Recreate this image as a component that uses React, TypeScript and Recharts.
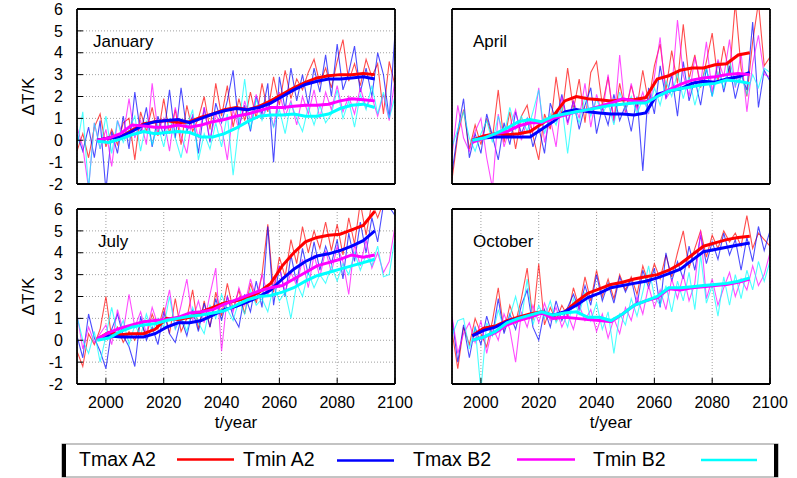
import React from 'react';
import { LineChart, Line, XAxis, YAxis, CartesianGrid } from 'recharts';

// yearly samples (every 2nd year) and the running-mean sample years
const YEARS = [
  1990, 1992, 1994, 1996, 1998, 2000, 2002, 2004, 2006, 2008, 2010, 2012, 2014, 2016,
  2018, 2020, 2022, 2024, 2026, 2028, 2030, 2032, 2034, 2036, 2038, 2040, 2042, 2044,
  2046, 2048, 2050, 2052, 2054, 2056, 2058, 2060, 2062, 2064, 2066, 2068, 2070, 2072,
  2074, 2076, 2078, 2080, 2082, 2084, 2086, 2088, 2090, 2092, 2094, 2096, 2098, 2100,
];
const SMOOTH_YEARS = [
  1997, 2001, 2005, 2009, 2013, 2017, 2021, 2025, 2029, 2033, 2037, 2041, 2045,
  2049, 2053, 2057, 2061, 2065, 2069, 2073, 2077, 2081, 2085, 2089, 2093,
];
const X_TICKS = [2000, 2020, 2040, 2060, 2080, 2100];
const Y_TICKS = [-2, -1, 0, 1, 2, 3, 4, 5, 6];

// January
const janTmaxA2 = [
  -0.5, 0.3, -0.8, 0.6, 1.2, -0.3, 0.5, -0.2, 0.8, 1.0, -0.9, 1.3, 0.4, 1.5,
  0.2, 1.9, 0.3, 1.4, -0.2, 1.6, 0.4, 1.0, 2.0, 0.5, 2.6, 1.1, 2.5, 0.6,
  1.9, 0.9, 2.2, 1.0, 2.6, 1.3, 2.9, 1.6, 3.2, 1.9, 2.8, 2.3, 3.1, 3.7,
  2.6, 3.3, 2.4, 3.6, 4.6, 2.7, 3.5, 2.5, 3.7, 2.9, 3.5, 1.2, 3.6, 2.5,
];
const janTminA2 = [
  0.3, -0.5, 0.6, -0.8, 0.9, -2.3, 0.4, -0.6, 1.1, -0.4, 2.2, 0.3, 1.5, -0.3,
  1.1, 0.2, 2.3, 0.1, 2.4, 0.4, 1.1, -0.6, 1.5, -0.1, 1.7, 0.8, 1.8, 3.2,
  0.6, 1.6, 0.4, 2.0, 1.2, 2.6, -1.0, 2.9, 1.4, 3.3, 1.8, 3.0, 1.6, 3.3,
  2.2, 3.9, 2.0, 4.4, 2.3, 3.1, 4.3, 2.2, 3.3, 2.0, 4.0, 3.0, 1.0, 4.9,
];
const janTmaxB2 = [
  0.6, -0.3, -2.2, 0.8, -0.4, 0.5, -1.2, 0.9, 0.2, 1.9, 0.1, 0.9, -0.2, 2.6,
  0.4, 1.0, -0.5, 1.5, 0.2, -0.6, 1.2, 0.1, 1.5, 0.0, 1.2, 0.6, -0.9, 1.4,
  0.5, 1.8, 0.9, 2.1, 1.0, 1.7, 0.6, 2.2, 1.1, 1.8, 0.7, 2.0, 1.2, 2.3,
  1.0, 2.2, 1.4, 2.5, 1.3, 2.0, 1.2, 2.4, 1.5, 2.0, 1.1, 2.1, 0.9, 2.8,
];
const janTminB2 = [
  -0.3, 1.3, -2.2, 0.8, -0.4, 1.1, -0.6, 0.9, -0.1, 0.5, 1.1, -0.5, 0.9, -0.2,
  0.7, -0.3, 1.0, 0.1, -0.8, 0.6, 1.4, -0.9, 0.3, -0.4, 0.8, -0.3, 1.2, -1.6,
  0.7, 2.8, 0.5, 1.9, 0.9, 1.6, 0.6, 1.4, 0.3, 1.7, 1.0, 0.4, 1.5, 0.7,
  1.6, 0.8, 1.2, 2.3, 1.0, 1.8, 0.6, 2.1, 1.4, 2.5, 1.2, 2.2, 1.0, 2.0,
];
const janSmTmaxA2 = [0.0, 0.1, 0.15, 0.45, 0.75, 0.85, 0.9, 0.8, 0.85, 1.05, 1.2, 1.4, 1.5, 1.4, 1.55, 1.8, 2.1, 2.4, 2.65, 2.85, 2.95, 3.0, 3.0, 3.05, 3.0];
const janSmTminA2 = [0.0, 0.1, 0.15, 0.4, 0.7, 0.85, 0.9, 0.95, 0.8, 1.0, 1.2, 1.35, 1.45, 1.4, 1.5, 1.7, 2.0, 2.3, 2.55, 2.7, 2.8, 2.8, 2.85, 2.9, 2.8];
const janSmTmaxB2 = [0.0, 0.1, 0.3, 0.7, 0.65, 0.6, 0.6, 0.7, 0.6, 0.7, 0.85, 0.95, 1.1, 1.2, 1.35, 1.5, 1.5, 1.55, 1.6, 1.6, 1.65, 1.8, 1.9, 1.85, 1.8];
const janSmTminB2 = [-0.05, -0.1, 0.05, 0.25, 0.4, 0.3, 0.35, 0.4, 0.35, 0.15, 0.15, 0.3, 0.55, 0.85, 1.1, 1.15, 1.15, 1.2, 1.1, 1.1, 1.2, 1.45, 1.6, 1.65, 1.5];

// April
const aprTmaxA2 = [
  -1.8, 0.2, 1.4, -0.4, 0.7, -0.2, 1.0, 0.1, 2.3, -0.1, 1.3, -0.4, 1.1, 1.6,
  0.2, -0.9, 1.2, 0.5, 2.9, 1.1, 3.3, 1.4, 2.8, 0.8, 3.1, 3.6, 1.6, 2.9,
  0.9, 2.6, 1.3, 2.5, 1.5, 3.2, 1.7, 3.4, 4.4, 2.3, 4.1, 2.6, 5.3, 2.8,
  3.9, 2.4, 3.6, 4.9, 2.7, 4.3, 3.0, 6.3, 3.3, 2.0, 4.5, 6.3, 3.4, 3.8,
];
const aprTminA2 = [
  -1.5, 0.4, 1.9, -0.8, 0.3, -0.6, 1.2, 0.2, -0.9, 0.8, -0.2, 1.3, 0.3, 1.0,
  -0.3, 0.6, -0.6, 1.7, 0.9, 2.1, 0.8, 1.8, 0.5, 1.6, 2.4, 0.3, 1.5, 0.7,
  2.1, 0.9, 1.6, 0.4, 2.0, -1.4, 2.4, 1.2, 3.4, 1.9, 3.0, 1.1, 3.6, 1.8,
  2.8, 1.6, 3.3, 2.0, 3.6, 2.2, 3.4, 1.9, 3.0, 2.3, 5.4, 1.5, 3.2, 2.7,
];
const aprTmaxB2 = [
  -0.7, 1.6, 0.1, -0.5, 0.4, 1.0, -0.8, -2.2, 1.2, -0.3, 0.6, 1.4, 0.0, 0.9,
  0.4, 2.4, -0.1, 1.0, -0.3, 2.0, 0.7, 1.8, 1.0, 2.6, 0.6, 2.1, 1.2, 3.0,
  0.8, 3.9, 1.2, 2.6, 1.4, 2.2, 1.2, 2.9, 4.7, 1.9, 2.3, 5.5, 3.0, 2.0,
  3.8, 2.6, 4.5, 2.2, 3.7, 2.9, 4.6, 2.4, 4.0, 1.3, 3.5, 4.8, 3.0, 2.9,
];
const aprTminB2 = [
  -0.3, 0.5, 1.3, 0.1, -0.5, 0.3, 0.9, -0.1, 1.1, 0.2, 1.5, 0.5, 1.1, 0.4,
  1.3, 2.3, 0.3, 1.2, 0.7, 1.6, -0.6, 1.5, 0.8, 2.0, 1.1, 1.9, 1.2, 1.7,
  0.7, 2.2, 1.4, 2.0, 1.2, 1.9, 1.3, 2.4, 1.6, 2.7, 2.0, 3.1, 1.9, 2.9,
  1.6, 2.6, 3.3, 2.0, 3.1, 2.4, 3.7, 2.5, 3.0, 2.1, 3.0, 2.4, 3.3, 3.1,
];
const aprSmTmaxA2 = [0.0, 0.2, 0.3, 0.25, 0.3, 0.4, 0.75, 1.1, 1.8, 2.0, 1.9, 1.85, 1.8, 1.85, 1.85, 1.95, 2.8, 2.95, 3.2, 3.3, 3.3, 3.45, 3.5, 3.9, 4.0];
const aprSmTminA2 = [0.0, 0.1, 0.15, 0.15, 0.15, 0.15, 0.5, 0.85, 1.3, 1.4, 1.3, 1.25, 1.2, 1.2, 1.15, 1.25, 2.1, 2.25, 2.35, 2.6, 2.7, 2.65, 2.8, 2.9, 3.1];
const aprSmTmaxB2 = [-0.1, 0.1, 0.3, 0.4, 0.65, 0.8, 0.8, 1.0, 1.15, 1.3, 1.4, 1.55, 1.7, 1.9, 1.8, 1.75, 2.0, 2.3, 2.55, 2.75, 2.85, 2.9, 3.0, 3.05, 3.0];
const aprSmTminB2 = [0.0, 0.1, 0.3, 0.55, 0.85, 0.95, 0.85, 1.1, 1.2, 1.3, 1.4, 1.5, 1.6, 1.65, 1.7, 1.7, 2.0, 2.25, 2.35, 2.45, 2.55, 2.6, 2.75, 2.7, 2.6];

// July
const julTmaxA2 = [
  -0.5, -1.2, 0.3, -0.2, 0.5, 2.0, 0.1, 0.6, -0.1, 0.4, 0.0, 0.8, 0.2, 1.2,
  0.5, 1.5, 0.3, 1.9, 0.4, 1.0, 2.3, 0.5, 1.8, 0.6, 2.2, 1.1, 2.6, 1.4,
  2.3, 1.2, 2.6, 1.7, 3.0, 5.3, 2.2, 3.8, 2.9, 4.6, 3.5, 5.2, 4.0, 5.0,
  4.2, 5.4, 4.1, 5.3, 3.9, 5.6, 4.4, 6.3, 4.8, 6.3, 5.6, 6.3, 6.3, 6.3,
];
const julTminA2 = [
  0.2, -0.8, 1.2, 0.1, -0.5, -1.3, 0.5, 1.2, 0.2, -0.3, -1.2, 1.1, 0.0, 0.6,
  -0.2, 1.3, 0.3, -0.1, 1.0, 0.2, 1.4, 0.4, 1.7, 0.6, 1.9, 0.9, 2.0, 1.1,
  0.6, 2.1, 1.3, 2.7, 1.5, 5.2, 1.6, 3.4, 2.0, 3.9, 2.6, 4.2, 3.0, 4.5,
  3.2, 4.3, 3.5, 4.6, 2.8, 4.9, 3.6, 5.4, 4.0, 5.6, 4.5, 6.2, 6.1, 5.7,
];
const julTmaxB2 = [
  1.2, -0.4, 0.6, -0.1, 0.3, 0.7, -0.2, 1.4, 0.4, 2.1, 0.6, 1.3, 0.3, 1.5,
  0.7, 1.1, 2.3, 0.5, 1.6, 2.8, 0.9, 1.8, 0.8, 2.1, 3.3, -0.5, 2.0, 1.3,
  2.4, 1.6, 2.8, 1.9, 3.0, 2.1, 2.5, 3.4, 2.2, 3.1, 2.5, 3.7, 2.4, 3.9,
  2.9, 4.1, 3.1, 4.3, 3.6, 2.1, 4.4, 3.4, 4.6, 3.3, 4.0, 3.1, 3.6, 5.2,
];
const julTminB2 = [
  1.1, 0.0, -0.6, 0.4, -1.0, 0.2, 1.5, 0.3, 0.9, -0.2, 0.7, 0.2, 1.2, 0.4,
  1.0, 0.6, 2.0, 0.5, 1.1, 0.4, 1.5, 0.8, 0.3, 1.6, 1.0, 2.1, 1.4, 0.9,
  1.8, 1.2, 2.3, 1.6, 1.9, 1.3, 2.5, 1.8, 2.2, 1.0, 2.6, 2.0, 3.1, 2.4,
  3.0, 2.6, 3.4, 2.7, 3.5, 3.0, 4.0, 3.2, 3.9, 3.4, 4.3, 2.9, 3.0, 4.7,
];
const julSmTmaxA2 = [0.05, 0.35, 0.25, 0.3, 0.3, 0.5, 1.0, 0.95, 1.05, 1.3, 1.5, 1.7, 1.8, 1.95, 2.2, 2.6, 3.4, 4.0, 4.5, 4.7, 4.8, 4.85, 5.05, 5.25, 5.9];
const julSmTminA2 = [0.05, 0.2, 0.15, 0.15, 0.15, 0.3, 0.6, 0.8, 0.8, 0.9, 1.15, 1.4, 1.55, 1.75, 2.0, 2.3, 2.8, 3.25, 3.6, 3.85, 3.95, 4.1, 4.3, 4.55, 5.0];
const julSmTmaxB2 = [0.05, 0.35, 0.55, 0.7, 0.85, 0.9, 0.95, 1.05, 1.25, 1.3, 1.4, 1.65, 1.85, 2.05, 2.25, 2.4, 2.5, 2.8, 3.1, 3.4, 3.55, 3.7, 3.9, 3.8, 3.9];
const julSmTminB2 = [0.0, 0.1, 0.4, 0.6, 0.7, 0.75, 0.9, 1.0, 1.1, 1.15, 1.25, 1.35, 1.6, 1.85, 2.0, 2.05, 2.2, 2.4, 2.7, 2.95, 3.1, 3.25, 3.4, 3.55, 3.7];

// October
const octTmaxA2 = [
  0.4, -1.3, 0.6, -0.2, 1.0, 0.3, -0.3, 0.9, 2.4, 0.4, 1.6, 0.8, 1.9, 3.3,
  0.9, 3.5, 0.7, 1.5, 0.9, 1.6, 1.1, 2.4, 1.5, 2.9, 1.8, 3.2, 2.0, 2.8,
  1.9, 3.0, 2.3, 2.9, 2.1, 3.4, 2.6, 3.5, 2.8, 3.9, 2.9, 4.0, 5.0, 3.3,
  4.2, 5.0, 3.8, 4.8, 4.2, 5.0, 4.5, 4.9, 4.3, 5.7, 4.2, 4.9, 4.6, 4.3,
];
const octTminA2 = [
  1.0, -1.0, 0.7, -0.8, 0.6, -0.2, 1.1, 0.2, 1.9, 0.3, 1.2, 0.5, 1.6, 2.3,
  0.6, 0.0, 1.4, 0.6, 1.8, 0.9, 1.5, 2.1, 1.4, 2.5, 1.6, 3.0, 1.8, 2.6,
  1.7, 2.9, 2.2, 2.8, 1.6, 3.2, 2.4, 3.3, 1.5, 4.0, 2.7, 3.6, 2.8, 4.3,
  3.2, 4.8, 3.5, 4.5, 3.7, 4.9, 3.9, 4.6, 3.2, 4.7, 3.6, 5.2, 4.1, 5.0,
];
const octTmaxB2 = [
  1.1, -0.6, 0.3, 0.8, -0.1, 0.9, -0.6, 0.6, 0.0, 1.2, 0.5, -1.0, 1.3, 0.6,
  1.6, 0.8, 1.7, 0.9, 1.5, 0.6, 1.2, 0.5, 1.6, 0.9, 1.4, 0.4, 1.2, 0.1,
  1.0, 0.3, 1.5, 0.9, 2.0, 1.2, 2.5, 1.5, 2.3, 1.4, 2.8, 1.9, 3.0, 1.8,
  2.6, 5.0, 1.9, 2.8, 1.6, 2.4, 3.1, 2.0, 2.8, 2.3, 3.4, 2.5, 3.0, 4.0,
];
const octTminB2 = [
  0.2, 0.9, 1.0, -0.4, 0.6, -2.3, 0.8, 0.2, 1.4, 0.5, 1.1, 2.0, 0.9, 2.8,
  0.7, 1.6, 1.0, 1.8, 0.8, 1.3, 0.6, 1.9, 1.2, 2.2, 0.9, 1.7, 0.5, 1.3,
  -0.6, 1.2, 0.7, 1.9, 1.1, 2.2, 3.4, 2.0, 1.6, 2.5, 1.3, 2.7, 1.8, 3.1,
  1.4, 3.9, 1.7, 2.5, 1.1, 2.9, 1.6, 3.0, 1.9, 3.2, 2.3, 3.6, 2.7, 3.6,
];
const octSmTmaxA2 = [0.2, 0.55, 0.65, 0.9, 1.05, 1.2, 1.3, 1.1, 1.3, 1.75, 2.15, 2.35, 2.55, 2.65, 2.8, 2.9, 3.0, 3.2, 3.5, 3.9, 4.3, 4.45, 4.6, 4.7, 4.75];
const octSmTminA2 = [0.2, 0.45, 0.6, 0.85, 1.0, 1.15, 1.25, 1.15, 1.3, 1.6, 1.95, 2.15, 2.4, 2.5, 2.6, 2.7, 2.85, 3.05, 3.25, 3.65, 4.05, 4.15, 4.25, 4.35, 4.45];
const octSmTmaxB2 = [0.0, 0.15, 0.35, 0.7, 0.9, 1.05, 1.25, 1.0, 1.05, 1.0, 0.95, 0.9, 0.85, 1.2, 1.6, 1.8, 1.95, 2.35, 2.3, 2.4, 2.45, 2.5, 2.55, 2.65, 2.8];
const octSmTminB2 = [0.0, 0.15, 0.4, 0.8, 1.0, 1.15, 1.3, 1.15, 1.25, 1.3, 1.05, 1.05, 0.9, 1.2, 1.6, 1.8, 2.0, 2.4, 2.4, 2.45, 2.5, 2.55, 2.6, 2.7, 2.85];

const SERIES = [
  { key: 'tmaxA2', name: 'Tmax A2', color: '#ff0000' },
  { key: 'tminA2', name: 'Tmin A2', color: '#0000ff' },
  { key: 'tmaxB2', name: 'Tmax B2', color: '#ff00ff' },
  { key: 'tminB2', name: 'Tmin B2', color: '#00ffff' },
];

const FONT = '"Liberation Sans", Arial, Helvetica, sans-serif';
const PLOT_W = 318;
const PLOT_H = 175;

function toRows(years: number[], cols: number[][]) {
  return years.map((year, i) => ({
    year,
    tmaxA2: cols[0][i],
    tminA2: cols[1][i],
    tmaxB2: cols[2][i],
    tminB2: cols[3][i],
  }));
}

const frameLine = { stroke: '#000', strokeWidth: 1.8 };
const tickMark = { stroke: '#000', strokeWidth: 1 };

interface PanelProps {
  title: string;
  titleX: number;
  noisy: number[][];
  smooth: number[][];
  plotX: number;
  plotY: number;
  yLabels: boolean;
  xLabels: boolean;
}

function Panel({ title, titleX, noisy, smooth, plotX, plotY, yLabels, xLabels }: PanelProps) {
  const noisyRows = toRows(YEARS, noisy);
  const smoothRows = toRows(SMOOTH_YEARS, smooth);
  const xAxisH = xLabels ? 44 : 1;
  const height = xLabels ? 240 : 200;
  const width = 430;

  return (
    <div style={{ position: 'absolute', left: plotX - 77, top: plotY - 9 }}>
      <LineChart
        width={width}
        height={height}
        margin={{ top: 8, left: 17, right: width - 77 - PLOT_W - 1, bottom: height - 9 - PLOT_H - xAxisH }}
      >
        <CartesianGrid stroke="#888" strokeDasharray="1 2" strokeWidth={0.8} />
        <XAxis
          dataKey="year"
          type="number"
          domain={[1990, 2100]}
          ticks={X_TICKS}
          interval={0}
          allowDataOverflow
          height={xAxisH}
          tickSize={-6}
          tickMargin={19}
          axisLine={frameLine}
          tickLine={tickMark}
          tick={xLabels ? { fontSize: 16, fill: '#000' } : false}
          label={xLabels ? { value: 't/year', position: 'insideBottom', offset: 0, fontSize: 17, fill: '#000' } : undefined}
        />
        <XAxis
          xAxisId="top"
          dataKey="year"
          orientation="top"
          type="number"
          domain={[1990, 2100]}
          ticks={X_TICKS}
          interval={0}
          allowDataOverflow
          height={1}
          tickSize={-6}
          axisLine={frameLine}
          tickLine={tickMark}
          tick={false}
        />
        <YAxis
          type="number"
          domain={[-2, 6]}
          ticks={Y_TICKS}
          interval={0}
          allowDataOverflow
          width={60}
          tickSize={-6}
          tickMargin={20}
          axisLine={frameLine}
          tickLine={tickMark}
          tick={yLabels ? { fontSize: 16, fill: '#000' } : false}
          label={
            yLabels
              ? { value: 'ΔT/K', angle: -90, position: 'insideLeft', offset: 11, fontSize: 17, fill: '#000', style: { textAnchor: 'middle' } }
              : undefined
          }
        />
        <YAxis
          yAxisId="right"
          orientation="right"
          type="number"
          domain={[-2, 6]}
          ticks={Y_TICKS}
          interval={0}
          allowDataOverflow
          width={1}
          tickSize={-6}
          axisLine={frameLine}
          tickLine={tickMark}
          tick={false}
        />
        {/* hidden series so the mirrored frame axes get their scales */}
        <Line
          xAxisId="top"
          yAxisId="right"
          data={smoothRows}
          dataKey="tmaxA2"
          stroke="none"
          dot={false}
          legendType="none"
          isAnimationActive={false}
        />
        {SERIES.map((s) => (
          <Line
            key={'n' + s.key}
            data={noisyRows}
            dataKey={s.key}
            type="linear"
            stroke={s.color}
            strokeOpacity={0.7}
            strokeWidth={1.1}
            dot={false}
            isAnimationActive={false}
          />
        ))}
        {SERIES.map((s) => (
          <Line
            key={'s' + s.key}
            data={smoothRows}
            dataKey={s.key}
            type="linear"
            stroke={s.color}
            strokeWidth={3}
            dot={false}
            isAnimationActive={false}
          />
        ))}
      </LineChart>
      <div
        style={{
          position: 'absolute',
          left: 77 + titleX,
          top: 33,
          fontSize: 17,
          lineHeight: 1,
          color: '#000',
          whiteSpace: 'nowrap',
        }}
      >
        {title}
      </div>
    </div>
  );
}

function LegendBox() {
  const items = [
    { text: 'Tmax A2', tx: 79, x1: 177, x2: 234, ly: 459.5 },
    { text: 'Tmin A2', tx: 243, x1: 337, x2: 394, ly: 460.5 },
    { text: 'Tmax B2', tx: 413, x1: 517, x2: 575, ly: 459.5 },
    { text: 'Tmin B2', tx: 593, x1: 701, x2: 757, ly: 460 },
  ];
  return (
    <svg width={797} height={478} style={{ position: 'absolute', left: 0, top: 0 }}>
      <rect x={62} y={444} width={716} height={33} fill="#fff" stroke="#888" strokeWidth={1} />
      <line x1={64} y1={444} x2={64} y2={477} stroke="#000" strokeWidth={4} />
      <line x1={776} y1={444} x2={776} y2={477} stroke="#000" strokeWidth={4} />
      {items.map((it, i) => (
        <g key={it.text}>
          <text x={it.tx} y={466} fontSize={19.5} fill="#000" fontFamily={FONT}>
            {it.text}
          </text>
          <line x1={it.x1} y1={it.ly} x2={it.x2} y2={it.ly} stroke={SERIES[i].color} strokeWidth={2.5} />
        </g>
      ))}
    </svg>
  );
}

export default function App() {
  return (
    <div
      style={{
        position: 'absolute',
        left: 0,
        top: 0,
        width: 797,
        height: 478,
        background: '#fff',
        fontFamily: FONT,
        overflow: 'hidden',
      }}
    >
      <Panel
        title="January"
        titleX={16}
        noisy={[janTmaxA2, janTminA2, janTmaxB2, janTminB2]}
        smooth={[janSmTmaxA2, janSmTminA2, janSmTmaxB2, janSmTminB2]}
        plotX={77}
        plotY={9}
        yLabels
        xLabels={false}
      />
      <Panel
        title="April"
        titleX={21}
        noisy={[aprTmaxA2, aprTminA2, aprTmaxB2, aprTminB2]}
        smooth={[aprSmTmaxA2, aprSmTminA2, aprSmTmaxB2, aprSmTminB2]}
        plotX={452}
        plotY={9}
        yLabels={false}
        xLabels={false}
      />
      <Panel
        title="July"
        titleX={21}
        noisy={[julTmaxA2, julTminA2, julTmaxB2, julTminB2]}
        smooth={[julSmTmaxA2, julSmTminA2, julSmTmaxB2, julSmTminB2]}
        plotX={77}
        plotY={209}
        yLabels
        xLabels
      />
      <Panel
        title="October"
        titleX={21}
        noisy={[octTmaxA2, octTminA2, octTmaxB2, octTminB2]}
        smooth={[octSmTmaxA2, octSmTminA2, octSmTmaxB2, octSmTminB2]}
        plotX={452}
        plotY={209}
        yLabels={false}
        xLabels
      />
      <LegendBox />
    </div>
  );
}
